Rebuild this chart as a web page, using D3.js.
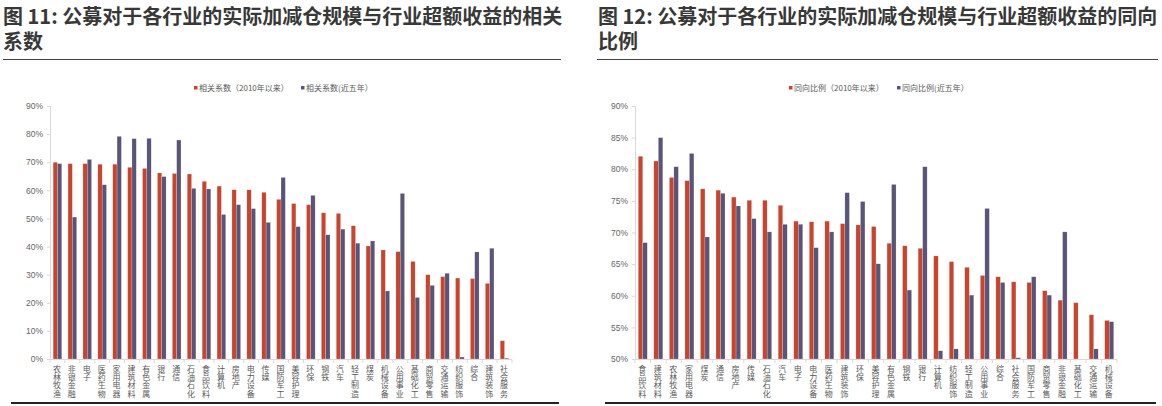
<!DOCTYPE html>
<html>
<head>
<meta charset="utf-8">
<script src="https://cdn.jsdelivr.net/npm/d3@7/dist/d3.min.js"></script>
<style>
  body { margin: 0; background: #fff; }
  svg { display: block; font-family: "Noto Sans CJK SC", "Noto Sans", sans-serif; }
</style>
</head>
<body>
<div id="chart"></div>
<script>
// 图11: 相关系数
var corrCats = ["农林牧渔","非银金融","电子","医药生物","家用电器","建筑材料","有色金属","银行","通信","石油石化",
  "食品饮料","计算机","房地产","电力设备","传媒","国防军工","美容护理","环保","钢铁","汽车","轻工制造","煤炭",
  "机械设备","公用事业","基础化工","商贸零售","交通运输","纺织服饰","综合","建筑装饰","社会服务"];
var corrSince2010 = [70.0,69.5,69.5,69.3,69.3,68.2,67.8,66.2,66.0,65.8,63.2,61.5,60.2,60.2,59.3,56.8,55.3,54.9,
  52.0,51.8,47.4,40.2,38.8,38.2,34.7,30.0,29.3,28.8,28.6,26.9,6.5];
var corrFiveYear = [69.5,50.5,71.0,62.0,79.2,78.4,78.5,64.9,77.9,60.7,60.5,51.4,54.9,53.5,48.6,64.6,47.1,58.2,
  44.2,46.2,41.2,42.0,24.2,58.9,21.9,26.2,30.5,0.7,38.1,39.4,0.3];
var corrTicks = [0,10,20,30,40,50,60,70,80,90];

// 图12: 同向比例
var sameCats = ["食品饮料","建筑材料","农林牧渔","家用电器","煤炭","通信","房地产","传媒","石油石化","汽车",
  "电子","电力设备","医药生物","建筑装饰","环保","美容护理","有色金属","钢铁","银行","计算机","纺织服饰",
  "轻工制造","公用事业","综合","社会服务","国防军工","商贸零售","非银金融","基础化工","交通运输","机械设备"];
var sameSince2010 = [82.05,81.3,78.7,78.2,76.9,76.7,75.6,75.1,75.1,74.3,71.8,71.7,71.8,71.4,71.2,70.95,68.3,
  67.9,67.5,66.3,65.4,64.5,63.2,63.0,62.2,62.1,60.8,59.3,58.9,57.0,56.1];
var sameFiveYear = [68.4,85.0,80.4,82.5,69.3,76.2,74.2,72.2,70.1,71.3,71.3,67.6,70.1,76.3,74.9,65.05,77.6,
  60.9,80.4,51.3,51.6,60.1,73.8,62.1,50.2,63.0,60.1,70.1,null,51.6,55.9];
var sameTicks = [50,55,60,65,70,75,80,85,90];

var RED = "#c8442c", PURPLE = "#5a5479";

var svg = d3.select("#chart").append("svg")
  .attr("width", 1162)
  .attr("height", 406);

function panel(opt) {
  var g = svg.append("g");

  // title
  opt.title.forEach(function (t, i) {
    g.append("text")
      .attr("x", opt.titleX)
      .attr("y", 24 + i * 25)
      .attr("font-size", 20)
      .attr("font-weight", "bold")
      .attr("fill", "#383838")
      .text(t);
  });
  g.append("line")
    .attr("x1", opt.ruleX[0]).attr("x2", opt.ruleX[1])
    .attr("y1", 59.5).attr("y2", 59.5)
    .attr("stroke", "#444").attr("stroke-width", 1.2);
  g.append("line")
    .attr("x1", opt.ruleX[0] + 8).attr("x2", opt.ruleX[1] - 2)
    .attr("y1", 403).attr("y2", 403)
    .attr("stroke", "#222").attr("stroke-width", 2);

  var x = d3.scaleBand()
    .domain(opt.cats)
    .range(opt.xRange)
    .paddingInner(0.42)
    .paddingOuter(0.21);
  var xs = d3.scaleBand()
    .domain(["a", "b"])
    .range([0, x.bandwidth()]);
  var y = d3.scaleLinear()
    .domain(opt.yDomain)
    .range([359, 106]);

  // y axis
  var yAxis = g.append("g")
    .attr("transform", "translate(" + opt.xRange[0] + ",0)")
    .call(d3.axisLeft(y).tickValues(opt.ticks).tickSize(3).tickPadding(4)
      .tickFormat(function (d) { return d + "%"; }));
  yAxis.select(".domain").attr("stroke", "#d9d9d9");
  yAxis.selectAll(".tick line").attr("stroke", "#d9d9d9");
  yAxis.selectAll(".tick text")
    .attr("fill", "#666")
    .attr("font-size", 8.5)
    .attr("font-family", "Liberation Sans, Arial, sans-serif");

  // bars
  var rows = opt.cats.map(function (c, i) {
    return { cat: c, a: opt.a[i], b: opt.b[i] };
  });
  var base = opt.yDomain[0];
  [["a", RED], ["b", PURPLE]].forEach(function (s) {
    g.selectAll(".bar-" + s[0])
      .data(rows.filter(function (d) { return d[s[0]] != null && d[s[0]] > base; }))
      .enter()
      .append("rect")
      .attr("x", function (d) { return x(d.cat) + xs(s[0]); })
      .attr("width", xs.bandwidth())
      .attr("y", function (d) { return y(d[s[0]]); })
      .attr("height", function (d) { return y(base) - y(d[s[0]]); })
      .attr("fill", s[1])
      .attr("stroke", "#fff")
      .attr("stroke-opacity", 0.5)
      .attr("stroke-width", 0.4);
  });

  // x axis with ticks between categories
  var step = x.step();
  g.append("line")
    .attr("x1", opt.xRange[0]).attr("x2", opt.xRange[1])
    .attr("y1", 359.5).attr("y2", 359.5)
    .attr("stroke", "#d9d9d9");
  g.selectAll(".xtick")
    .data(d3.range(opt.cats.length + 1))
    .enter()
    .append("line")
    .attr("x1", function (i) { return opt.xRange[0] + i * step; })
    .attr("x2", function (i) { return opt.xRange[0] + i * step; })
    .attr("y1", 359.5).attr("y2", 363)
    .attr("stroke", "#d9d9d9");

  // vertical category labels, one char per line
  g.selectAll(".xlab")
    .data(opt.cats)
    .enter()
    .append("text")
    .attr("x", function (d) { return x(d) + x.bandwidth() / 2 - 0.5; })
    .attr("y", 364.5)
    .attr("font-size", 8)
    .attr("fill", "#595959")
    .attr("letter-spacing", 0.4)
    .style("writing-mode", "vertical-rl")
    .style("text-orientation", "upright")
    .text(function (d) { return d; });

  // legend
  opt.legend.forEach(function (l, i) {
    var lg = g.append("g").attr("transform", "translate(" + l.x + ",86)");
    lg.append("rect").attr("width", 3.5).attr("height", 3.5).attr("fill", i === 0 ? RED : PURPLE);
    lg.append("text")
      .attr("x", 5).attr("y", 4.8)
      .attr("font-size", 8)
      .attr("fill", "#595959")
      .text(l.text);
  });
}

panel({
  title: ["图 11: 公募对于各行业的实际加减仓规模与行业超额收益的相关", "系数"],
  titleX: 3,
  ruleX: [3, 561],
  cats: corrCats,
  a: corrSince2010,
  b: corrFiveYear,
  ticks: corrTicks,
  yDomain: [0, 90],
  xRange: [50, 512],
  legend: [
    { x: 194, text: "相关系数（2010年以来）" },
    { x: 301, text: "相关系数(近五年）" }
  ]
});

panel({
  title: ["图 12: 公募对于各行业的实际加减仓规模与行业超额收益的同向", "比例"],
  titleX: 598,
  ruleX: [597, 1158],
  cats: sameCats,
  a: sameSince2010,
  b: sameFiveYear,
  ticks: sameTicks,
  yDomain: [50, 90],
  xRange: [635, 1117],
  legend: [
    { x: 789, text: "同向比例（2010年以来）" },
    { x: 897, text: "同向比例(近五年）" }
  ]
});
</script>
</body>
</html>
